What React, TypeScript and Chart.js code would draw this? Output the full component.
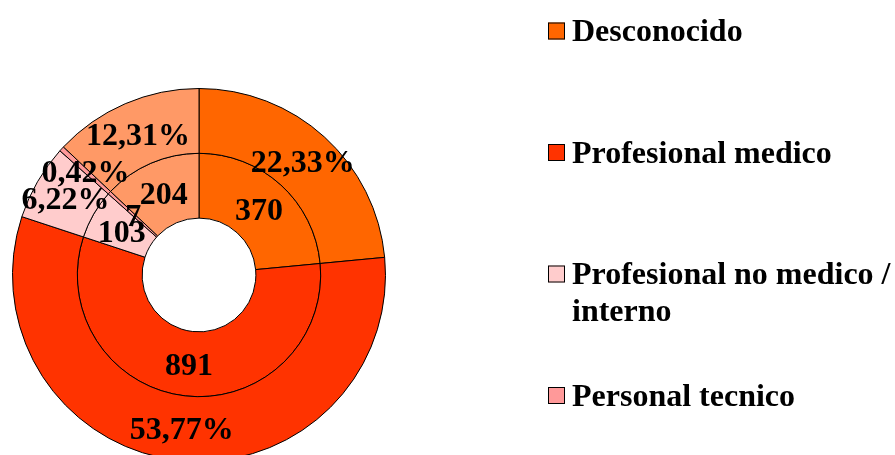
import { useEffect, useRef } from "react";
import { Chart, ArcElement, DoughnutController } from "chart.js";

Chart.register(ArcElement, DoughnutController);

const categories = [
  "Desconocido",
  "Profesional medico",
  "Profesional no medico / interno",
  "Personal tecnico",
  "Otros",
];
const counts = [370, 891, 103, 7, 204];
const percentLabels = ["22,33%", "53,77%", "6,22%", "0,42%", "12,31%"];
const colors = ["#FF6600", "#FF3300", "#FFCCCC", "#FF9999", "#FF9966"];

const FONT = "bold 32px 'Liberation Serif', 'Times New Roman', serif";

const ringLabels = {
  id: "ringLabels",
  afterDatasetsDraw(chart: any) {
    const ctx = chart.ctx;
    ctx.save();
    ctx.font = FONT;
    ctx.fillStyle = "#000";
    ctx.textAlign = "center";
    ctx.textBaseline = "middle";
    chart.data.datasets.forEach((_ds: any, di: number) => {
      const meta = chart.getDatasetMeta(di);
      meta.data.forEach((arc: any, i: number) => {
        const p = arc.tooltipPosition(false);
        const text = di === 0 ? percentLabels[i] : String(counts[i]);
        ctx.fillText(text, p.x, p.y + 3);
      });
    });
    ctx.restore();
  },
};

const sideLegend = {
  id: "sideLegend",
  afterDraw(chart: any) {
    const ctx = chart.ctx;
    const x0 = 548;
    const box = 17;
    const textX = 572;
    const firstY = 31;
    const step = 121.5;
    const lineH = 37;
    const maxW = chart.width - textX + 10;
    ctx.save();
    ctx.font = FONT;
    ctx.textAlign = "left";
    ctx.textBaseline = "alphabetic";
    chart.data.labels.forEach((label: string, i: number) => {
      const cy = firstY + i * step;
      ctx.fillStyle = colors[i];
      ctx.fillRect(x0, cy - box / 2, box, box);
      ctx.strokeStyle = "#000";
      ctx.lineWidth = 1;
      ctx.strokeRect(x0 + 0.5, cy - box / 2 + 0.5, box - 1, box - 1);
      const words = label.split(" ");
      const lines: string[] = [];
      let cur = "";
      words.forEach((w) => {
        const test = cur ? cur + " " + w : w;
        if (ctx.measureText(test).width > maxW && cur) {
          lines.push(cur);
          cur = w;
        } else {
          cur = test;
        }
      });
      if (cur) lines.push(cur);
      ctx.fillStyle = "#000";
      lines.forEach((ln, li) => {
        ctx.fillText(ln, textX, cy + 10 + li * lineH);
      });
    });
    ctx.restore();
  },
};

export default function App() {
  const ref = useRef<HTMLCanvasElement | null>(null);
  useEffect(() => {
    if (!ref.current) return;
    const chart = new Chart(ref.current, {
      type: "doughnut",
      data: {
        labels: categories,
        datasets: [
          {
            data: counts,
            backgroundColor: colors,
            borderColor: "#000",
            borderWidth: 1,
          },
          {
            data: counts,
            backgroundColor: colors,
            borderColor: "#000",
            borderWidth: 1,
          },
        ],
      },
      options: {
        responsive: false,
        maintainAspectRatio: false,
        animation: false,
        devicePixelRatio: 1,
        cutout: "30.5%",
        layout: { padding: { left: 12, top: 88, right: 509, bottom: 18 } },
        plugins: {
          legend: { display: false },
          tooltip: { enabled: false },
        },
      },
      plugins: [ringLabels, sideLegend],
    });
    return () => chart.destroy();
  }, []);
  return (
    <div
      style={{
        position: "fixed",
        left: 0,
        top: 0,
        width: 895,
        height: 480,
        overflow: "hidden",
        background: "#fff",
      }}
    >
      <canvas ref={ref} width={895} height={480} style={{ display: "block" }} />
    </div>
  );
}
